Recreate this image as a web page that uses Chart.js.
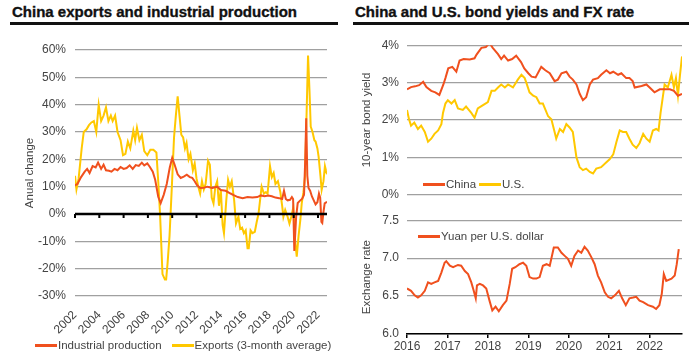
<!DOCTYPE html>
<html>
<head>
<meta charset="utf-8">
<title>China exports, bond yields and FX rate</title>
<script src="https://cdn.jsdelivr.net/npm/chart.js"></script>
<style>
  body { margin: 0; width: 689px; height: 358px; background: #fff; position: relative; overflow: hidden; font-family: "Liberation Sans", Arial, sans-serif; }
  .title { position: absolute; top: 4px; font-weight: bold; font-size: 15px; line-height: 15px; color: #111; white-space: nowrap; -webkit-text-stroke: 0.35px #111; }
  .rule { position: absolute; top: 22px; height: 3px; background: #111; }
  canvas { position: absolute; }
  .legend { position: absolute; font-size: 11.5px; line-height: 14px; height: 14px; color: #444; white-space: nowrap; display: flex; align-items: center; }
  .legend i { display: inline-block; width: 22px; height: 3px; margin-right: 1px; }
</style>
</head>
<body>

<div class="title" style="left:12px">China exports and industrial production</div>
<div class="rule" style="left:10px; width:328px"></div>
<div class="title" style="left:355px">China and U.S. bond yields and FX rate</div>
<div class="rule" style="left:353px; width:336px"></div>

<canvas id="left" width="340" height="328" style="left:0; top:30px"></canvas>
<canvas id="yields" width="344" height="180" style="left:345px; top:30px"></canvas>
<canvas id="fx" width="344" height="153" style="left:345px; top:205px"></canvas>

<div class="legend" style="left:35px; top:338px"><i style="background:#f0501e"></i>Industrial production<i style="background:#ffc800; margin-left:10px"></i>Exports (3-month average)</div>
<div class="legend" style="left:423px; top:177px"><i style="background:#f0501e"></i>China<i style="background:#ffc800; margin-left:3px"></i>U.S.</div>
<div class="legend" style="left:418px; top:229px"><i style="background:#f0501e"></i>Yuan per U.S. dollar</div>

<script>
// China industrial production, annual change %
var ipYears = [2002.0, 2002.2, 2002.5, 2002.8, 2003.0, 2003.2, 2003.45, 2003.7, 2003.9, 2004.15, 2004.35, 2004.55, 2004.8,
    2005.0, 2005.25, 2005.5, 2005.75, 2006.0, 2006.25, 2006.5, 2006.75, 2007.0, 2007.25, 2007.5, 2007.7, 2007.95,
    2008.15, 2008.4, 2008.6, 2008.85, 2009.05, 2009.3, 2009.55, 2009.8, 2010.0, 2010.2, 2010.45, 2010.7, 2010.95,
    2011.2, 2011.45, 2011.65, 2011.85, 2012.05, 2012.3, 2012.6, 2012.9, 2013.3, 2013.7, 2014.0, 2014.4, 2014.8,
    2015.1, 2015.4, 2015.8, 2016.2, 2016.6, 2017.0, 2017.3, 2017.6, 2017.9, 2018.2, 2018.5, 2018.8, 2019.05, 2019.2,
    2019.35, 2019.5, 2019.7, 2019.85, 2019.95, 2020.05, 2020.2, 2020.33, 2020.5, 2020.7, 2020.85, 2020.95, 2021.03,
    2021.12, 2021.22, 2021.35, 2021.5, 2021.65, 2021.8, 2021.95, 2022.08, 2022.18, 2022.28, 2022.35, 2022.45, 2022.55, 2022.74];
var ipValues = [10.5, 11, 13.5, 15.5, 16.5, 15, 17.5, 17, 18.8, 16.5, 18, 16, 15.8,
    15.5, 16.5, 16, 17.2, 16.5, 16.8, 17.8, 16.5, 17.9, 17.6, 18.8, 17.8, 18.5,
    17.3, 15.5, 12.5, 6.3, 4, 7, 11, 17, 20.5, 18, 14.5, 13.2, 13.7,
    14.4, 13.5, 13.2, 12, 10.5, 9.5, 9.6, 10, 9.5, 10, 8.8, 8.5, 7.5,
    6.8, 6.2, 5.8, 6.2, 6, 6.2, 6.8, 6.5, 6.8, 6.5, 6, 5.8, 5.5, 8.5,
    5.5, 5, 5.2, 6.2, 5.5, -13.5, -1, 4, 4.8, 5.6, 7, 20, 35,
    14, 9.5, 8.5, 6.4, 5, 3.5, 4.3, 7.5, 6, -2.9, -3.3, 0.8, 3.9, 4.5];

// China exports (3-month average), annual change %
var exYears = [2002.0, 2002.12, 2002.3, 2002.55, 2002.72, 2002.95, 2003.15, 2003.35, 2003.55, 2003.75, 2003.95, 2004.15,
    2004.35, 2004.55, 2004.75, 2004.95, 2005.1, 2005.3, 2005.5, 2005.75, 2005.95, 2006.15, 2006.35, 2006.55, 2006.8,
    2006.95, 2007.1, 2007.3, 2007.5, 2007.7, 2007.95, 2008.2, 2008.45, 2008.7, 2008.85, 2009.0, 2009.2, 2009.4, 2009.5,
    2009.62, 2009.78, 2009.96, 2010.15, 2010.3, 2010.45, 2010.6, 2010.75, 2010.9, 2011.05, 2011.18, 2011.35, 2011.5,
    2011.7, 2011.85, 2012.0, 2012.15, 2012.3, 2012.45, 2012.6, 2012.75, 2012.95, 2013.1, 2013.25, 2013.4, 2013.55,
    2013.7, 2013.85, 2014.0, 2014.15, 2014.26, 2014.45, 2014.6, 2014.75, 2014.9, 2015.1, 2015.25, 2015.45, 2015.6,
    2015.75, 2015.9, 2016.05, 2016.2, 2016.3, 2016.45, 2016.6, 2016.8, 2016.95, 2017.1, 2017.36, 2017.55, 2017.7,
    2017.85, 2018.05, 2018.2, 2018.35, 2018.5, 2018.7, 2018.9, 2019.05, 2019.15, 2019.3, 2019.5, 2019.65, 2019.8,
    2019.97, 2020.12, 2020.25, 2020.4, 2020.55, 2020.66, 2020.8, 2020.93, 2021.05, 2021.18, 2021.3, 2021.4, 2021.55,
    2021.7, 2021.8, 2021.95, 2022.05, 2022.2, 2022.3, 2022.45, 2022.57, 2022.65, 2022.74];
var exValues = [14, 9, 13, 24, 30, 31, 32.5, 33.5, 34, 30, 40, 34,
    36, 39, 34, 36, 34, 36, 30, 27, 21.5, 22, 26.5, 24, 30.5,
    27, 31.5, 27, 29, 23, 21.5, 23.5, 23.5, 22.5, 12, 0, -22, -24, -24,
    -18, -8, 9, 28, 36, 43, 36, 29, 28, 24, 26, 20, 22,
    16, 18.5, 13, 10, 7.5, 12, 9, 11, 19.5, 18, 6, 3.9, 10,
    12, 3, 9, -4, -7, 5, 12.5, 10, 12, 5, -3.5, -1, -5.5,
    -5, -7, -6, -12.5, -12.5, -6, -7, -6.5, -3, 0, 10, 7.5, 8,
    7.5, 17.5, 13.5, 15, 11, 12, 8, 3, -1, 1.5, -1, -3.5, -1,
    2.5, -10, -15.6, -8, -2, 3.9, 8, 13.7, 35, 58, 45, 32, 30,
    27, 26.5, 24, 21, 14, 8.8, 12, 17.5, 16, 14.5];

// 10-year government bond yields, %
var cnYears = [2016.0, 2016.1, 2016.2, 2016.3, 2016.4, 2016.48, 2016.6, 2016.7, 2016.8, 2016.9, 2016.95, 2017.02, 2017.12,
    2017.22, 2017.3, 2017.4, 2017.55, 2017.67, 2017.72, 2017.84, 2017.95, 2018.04, 2018.12, 2018.25, 2018.33, 2018.4,
    2018.5, 2018.6, 2018.7, 2018.82, 2018.9, 2019.0, 2019.08, 2019.18, 2019.32, 2019.42, 2019.53, 2019.65, 2019.73,
    2019.82, 2019.94, 2020.02, 2020.1, 2020.19, 2020.27, 2020.35, 2020.43, 2020.52, 2020.6, 2020.72, 2020.8, 2020.93,
    2021.02, 2021.1, 2021.22, 2021.3, 2021.42, 2021.5, 2021.58, 2021.63, 2021.8, 2021.92, 2022.0, 2022.12, 2022.25,
    2022.37, 2022.5, 2022.6, 2022.7, 2022.8];
var cnValues = [2.82, 2.88, 2.9, 2.93, 3.02, 2.88, 2.78, 2.74, 2.67, 2.95, 3.12, 3.38, 3.42,
    3.29, 3.59, 3.63, 3.62, 3.65, 3.75, 3.93, 3.95, 4.06, 3.93, 3.76, 3.63, 3.72,
    3.59, 3.63, 3.72, 3.55, 3.38, 3.25, 3.16, 3.14, 3.42, 3.33, 3.25, 3.04, 3.08,
    3.25, 3.29, 3.16, 3.08, 2.95, 2.7, 2.53, 2.61, 2.95, 3.08, 3.12, 3.21, 3.33,
    3.25, 3.29, 3.21, 3.25, 3.12, 3.12, 3.04, 2.87, 2.91, 2.95, 2.87, 2.74, 2.82,
    2.82, 2.82, 2.78, 2.65, 2.7];
var usYears = [2016.0, 2016.05, 2016.1, 2016.18, 2016.27, 2016.35, 2016.44, 2016.52, 2016.6, 2016.68, 2016.77, 2016.85,
    2016.89, 2016.95, 2017.01, 2017.1, 2017.18, 2017.26, 2017.38, 2017.46, 2017.59, 2017.67, 2017.75, 2017.88, 2018.0,
    2018.09, 2018.17, 2018.25, 2018.33, 2018.42, 2018.5, 2018.62, 2018.74, 2018.83, 2018.91, 2018.95, 2019.03, 2019.12,
    2019.2, 2019.28, 2019.36, 2019.49, 2019.57, 2019.65, 2019.69, 2019.78, 2019.86, 2019.94, 2020.02, 2020.1, 2020.19,
    2020.27, 2020.35, 2020.43, 2020.52, 2020.6, 2020.68, 2020.8, 2020.93, 2021.01, 2021.1, 2021.18, 2021.26, 2021.34,
    2021.42, 2021.5, 2021.58, 2021.67, 2021.75, 2021.84, 2021.92, 2022.0, 2022.08, 2022.16, 2022.22, 2022.27, 2022.32,
    2022.37, 2022.45, 2022.54, 2022.6, 2022.65, 2022.7, 2022.75, 2022.8];
var usValues = [2.27, 2.02, 1.85, 1.93, 1.76, 1.85, 1.68, 1.42, 1.5, 1.63, 1.72, 1.89,
    2.19, 2.44, 2.53, 2.44, 2.53, 2.31, 2.27, 2.36, 2.19, 2.06, 2.31, 2.4, 2.48,
    2.78, 2.78, 2.87, 2.95, 2.87, 2.95, 2.87, 3.08, 3.21, 3.12, 3.0, 2.74, 2.65,
    2.61, 2.44, 2.44, 2.1, 2.02, 1.68, 1.5, 1.76, 1.68, 1.89, 1.8, 1.68, 1.0,
    0.74, 0.66, 0.7, 0.61, 0.57, 0.7, 0.74, 0.87, 0.95, 1.08, 1.42, 1.72, 1.68,
    1.68, 1.5, 1.34, 1.25, 1.38, 1.63, 1.5, 1.42, 1.72, 1.76, 1.72, 2.19, 2.57,
    2.95, 2.87, 3.21, 2.87, 3.12, 2.65, 3.2, 3.7];

// Yuan per U.S. dollar
var fxYears = [2016.0, 2016.1, 2016.19, 2016.27, 2016.35, 2016.44, 2016.52, 2016.6, 2016.68, 2016.77, 2016.85, 2016.93,
    2016.97, 2017.06, 2017.14, 2017.26, 2017.34, 2017.43, 2017.51, 2017.59, 2017.65, 2017.7, 2017.73, 2017.8, 2017.88,
    2017.96, 2018.04, 2018.11, 2018.19, 2018.27, 2018.37, 2018.46, 2018.54, 2018.6, 2018.68, 2018.78, 2018.87, 2018.95,
    2019.03, 2019.12, 2019.2, 2019.28, 2019.36, 2019.45, 2019.53, 2019.63, 2019.73, 2019.82, 2019.9, 2019.98, 2020.06,
    2020.14, 2020.23, 2020.31, 2020.39, 2020.47, 2020.56, 2020.64, 2020.72, 2020.8, 2020.89, 2020.97, 2021.05, 2021.14,
    2021.24, 2021.32, 2021.41, 2021.5, 2021.59, 2021.67, 2021.75, 2021.84, 2021.96, 2022.08, 2022.16, 2022.24, 2022.3,
    2022.35, 2022.41, 2022.54, 2022.62, 2022.67, 2022.72];
var fxValues = [6.6, 6.57, 6.51, 6.48, 6.51, 6.57, 6.68, 6.66, 6.68, 6.7, 6.81, 6.94,
    6.96, 6.9, 6.88, 6.91, 6.9, 6.83, 6.79, 6.68, 6.57, 6.47, 6.64, 6.66, 6.64,
    6.6, 6.44, 6.31, 6.36, 6.3, 6.38, 6.44, 6.66, 6.86, 6.88, 6.92, 6.94, 6.9,
    6.75, 6.73, 6.73, 6.75, 6.9, 6.92, 6.9, 7.14, 7.14, 7.07, 7.03, 6.99, 6.9,
    7.03, 7.1, 7.07, 7.15, 7.1, 7.01, 6.92, 6.77, 6.68, 6.55, 6.49, 6.47, 6.51,
    6.57, 6.47, 6.38, 6.47, 6.48, 6.49, 6.44, 6.42, 6.38, 6.36, 6.33, 6.38, 6.53,
    6.79, 6.7, 6.73, 6.77, 6.92, 7.12];

var RED = '#f0501e';
var YELLOW = '#ffc800';
var GRID = '#a0a0a0';

Chart.defaults.font.family = "'Liberation Sans', Arial, sans-serif";
Chart.defaults.font.size = 12;
Chart.defaults.color = '#444';

function toPoints(xs, ys) {
    return xs.map(function (x, i) { return {x: x, y: ys[i]}; });
}
function lineSet(label, xs, ys, color) {
    return {label: label, data: toPoints(xs, ys), borderColor: color, backgroundColor: color,
        borderWidth: 2, pointRadius: 0, tension: 0, fill: false};
}

// black zero line with small tick marks, drawn over the lines
var zeroAxis = {
    id: 'zeroAxis',
    afterDatasetsDraw: function (chart) {
        var ctx = chart.ctx, x = chart.scales.x, y = chart.scales.y, area = chart.chartArea;
        var y0 = y.getPixelForValue(0);
        ctx.save();
        ctx.strokeStyle = '#000';
        ctx.lineWidth = 2.5;
        ctx.beginPath();
        ctx.moveTo(area.left, y0);
        ctx.lineTo(area.right, y0);
        ctx.stroke();
        ctx.lineWidth = 2;
        ctx.beginPath();
        x.ticks.forEach(function (t) {
            var px = x.getPixelForValue(t.value);
            ctx.moveTo(px, y0);
            ctx.lineTo(px, y0 + 4);
        });
        ctx.stroke();
        ctx.restore();
    }
};

new Chart(document.getElementById('left'), {
    type: 'line',
    data: {datasets: [
        lineSet('Industrial production', ipYears, ipValues, RED),
        lineSet('Exports (3-month average)', exYears, exValues, YELLOW)
    ]},
    options: {
        responsive: false,
        animation: false,
        layout: {padding: {left: 19, right: 13, top: 20, bottom: 0}},
        plugins: {legend: {display: false}, tooltip: {enabled: false}},
        scales: {
            x: {
                type: 'linear', min: 2002, max: 2022.74,
                border: {display: false},
                grid: {display: false},
                ticks: {stepSize: 2, includeBounds: false, minRotation: 45, maxRotation: 45, padding: 4,
                    callback: function (v) { return String(v); }},
                afterFit: function (s) { s.height = 62; }
            },
            y: {
                min: -30, max: 60,
                border: {display: false},
                grid: {color: GRID, lineWidth: 1.2, drawTicks: false},
                ticks: {stepSize: 10, padding: 9, callback: function (v) { return v + '%'; }},
                title: {display: true, text: 'Anual change', font: {size: 11.5}},
                afterFit: function (s) { s.width = 56; }
            }
        }
    },
    plugins: [zeroAxis]
});

new Chart(document.getElementById('yields'), {
    type: 'line',
    data: {datasets: [
        lineSet('China', cnYears, cnValues, RED),
        lineSet('U.S.', usYears, usValues, YELLOW)
    ]},
    options: {
        responsive: false,
        animation: false,
        layout: {padding: {left: 11, right: 7, top: 14, bottom: 10}},
        plugins: {legend: {display: false}, tooltip: {enabled: false}},
        scales: {
            x: {type: 'linear', min: 2016, max: 2022.8, display: false},
            y: {
                min: 0, max: 4,
                border: {display: false},
                grid: {color: GRID, lineWidth: 1.2, drawTicks: false},
                ticks: {stepSize: 1, padding: 8, callback: function (v) { return v + '%'; }},
                title: {display: true, text: '10-year bond yield', font: {size: 11.5}},
                afterFit: function (s) { s.width = 51; }
            }
        }
    }
});

new Chart(document.getElementById('fx'), {
    type: 'line',
    data: {datasets: [
        lineSet('Yuan per U.S. dollar', fxYears, fxValues, RED)
    ]},
    options: {
        responsive: false,
        animation: false,
        layout: {padding: {left: 11, right: 7, top: 13, bottom: 0}},
        plugins: {legend: {display: false}, tooltip: {enabled: false}},
        scales: {
            x: {
                type: 'linear', min: 2016, max: 2022.8,
                border: {display: true, color: '#000', width: 1.5},
                grid: {drawOnChartArea: false, color: '#000', lineWidth: 1.5, tickLength: 4},
                ticks: {stepSize: 1, includeBounds: false, maxRotation: 0, padding: 1,
                    callback: function (v) { return String(v); }},
                afterFit: function (s) { s.height = 24; }
            },
            y: {
                min: 6, max: 7.5,
                border: {display: false},
                grid: {color: GRID, lineWidth: 1.2, drawTicks: false},
                ticks: {stepSize: 0.5, padding: 8},
                title: {display: true, text: 'Exchange rate', font: {size: 11.5}},
                afterFit: function (s) { s.width = 51; }
            }
        }
    }
});
</script>

</body>
</html>
